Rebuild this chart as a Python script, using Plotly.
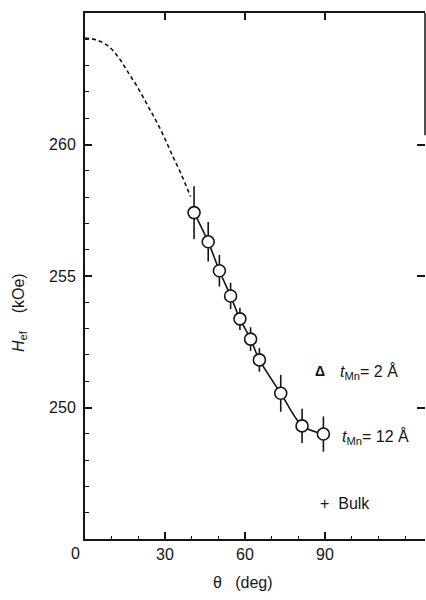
import plotly.graph_objects as go

# Measured points (t_Mn = 12 Å)
theta = [40.9, 46.2, 50.4, 54.6, 58.1, 62.1, 65.4, 73.4, 81.4, 89.4]
hef = [257.41, 256.30, 255.20, 254.24, 253.37, 252.60, 251.81, 250.54, 249.30, 248.99]
hef_err = [1.0, 0.75, 0.6, 0.5, 0.42, 0.45, 0.45, 0.7, 0.65, 0.67]

# Dashed extrapolation curve
theta_ext = [0, 4.5, 9, 12.8, 16, 19.6, 23.4, 26.5, 29.6, 32.7, 35.9, 39.6]
hef_ext = [264.05, 263.97, 263.72, 263.28, 262.77, 262.2, 261.5, 260.93, 260.3, 259.6, 258.91, 258.02]

x_ticks = [0, 30, 60, 90]
x_ticklabels = ["", "30", "60", "90"]
y_ticks = [250, 255, 260]

FONT = "Liberation Sans"
INK = "#151515"

fig = go.Figure()

fig.add_trace(go.Scatter(
    x=theta_ext, y=hef_ext, mode="lines",
    line=dict(color=INK, width=1.6, dash="4px,3px", shape="spline"),
    showlegend=False, hoverinfo="skip"))

fig.add_trace(go.Scatter(
    x=theta, y=hef, mode="lines",
    line=dict(color=INK, width=1.6, shape="spline", smoothing=0.8),
    showlegend=False, hoverinfo="skip"))

fig.add_trace(go.Scatter(
    x=theta, y=hef, mode="markers",
    marker=dict(symbol="circle", size=12, color="white",
                line=dict(color=INK, width=1.6)),
    error_y=dict(type="data", array=hef_err, visible=True,
                 color=INK, thickness=1.6, width=0),
    showlegend=False))

fig.update_layout(
    width=426, height=600,
    margin=dict(l=85, r=1, t=13, b=61),
    paper_bgcolor="white", plot_bgcolor="white",
    font=dict(family=FONT, size=16, color=INK),
    xaxis=dict(
        range=[0, 127.5], tickvals=x_ticks, ticktext=x_ticklabels,
        ticks="inside", ticklen=7, tickwidth=1.5, tickcolor=INK,
        showline=True, linecolor=INK, linewidth=2, mirror=True,
        showgrid=False, zeroline=False,
        minor=dict(dtick=10, tick0=0, ticks="inside", ticklen=3,
                   tickwidth=1.2, tickcolor=INK, showgrid=False),
        tickfont=dict(size=16),
    ),
    xaxis2=dict(
        overlaying="x", side="top", range=[0, 127.5],
        tickvals=x_ticks[1:], ticks="inside", ticklen=7, tickwidth=1.5,
        tickcolor=INK, showticklabels=False, showline=False,
        showgrid=False, zeroline=False,
    ),
    yaxis=dict(
        range=[245, 265], tickvals=y_ticks,
        ticks="inside", ticklen=7, tickwidth=1.5, tickcolor=INK,
        showline=True, linecolor=INK, linewidth=2,
        showgrid=False, zeroline=False,
        minor=dict(dtick=1, tick0=245, ticks="inside", ticklen=4,
                   tickwidth=1.2, tickcolor=INK, showgrid=False),
        tickfont=dict(size=16), ticklabelstandoff=4,
    ),
    yaxis2=dict(
        overlaying="y", side="right", range=[245, 265],
        tickvals=y_ticks, ticks="inside", ticklen=8, tickwidth=1.5,
        tickcolor=INK, showticklabels=False, showline=False,
        showgrid=False, zeroline=False,
    ),
    showlegend=False,
)

# invisible trace to activate the top/right tick axes
fig.add_trace(go.Scatter(x=[None], y=[None], xaxis="x2", yaxis="y2",
                         showlegend=False, hoverinfo="skip"))

# partial right border line (upper part only, as in original)
fig.add_shape(type="line", xref="paper", yref="y", x0=1, x1=1,
              y0=265, y1=260.35, line=dict(color=INK, width=1.5))

# (text, pixel x, pixel y, xanchor, size, angle)
labels = [
    ("0", 75, 553, "center", 16, 0),
    ("θ   (deg)", 243, 582, "center", 16, 0),
    ("<i>H</i><sub>ef</sub>    (kOe)", 19, 313, "center", 16, -90),
    ("<b>Δ</b>", 320, 371, "center", 14, 0),
    ("<i>t</i><sub>Mn</sub>= 2 Å", 338, 372, "left", 16, 0),
    ("<i>t</i><sub>Mn</sub>= 12 Å", 340, 437, "left", 16, 0),
    ("+  Bulk", 318, 503, "left", 16, 0),
]

anns = []
for text, px, py, xa, sz, ang in labels:
    anns.append(dict(
        text=text, xref="paper", yref="paper",
        x=(px - 85) / 340, y=1 - (py - 13) / 526,
        xanchor=xa, yanchor="middle", showarrow=False,
        textangle=ang, font=dict(size=sz)))
fig.update_layout(annotations=anns)

fig.write_html("out.html")
